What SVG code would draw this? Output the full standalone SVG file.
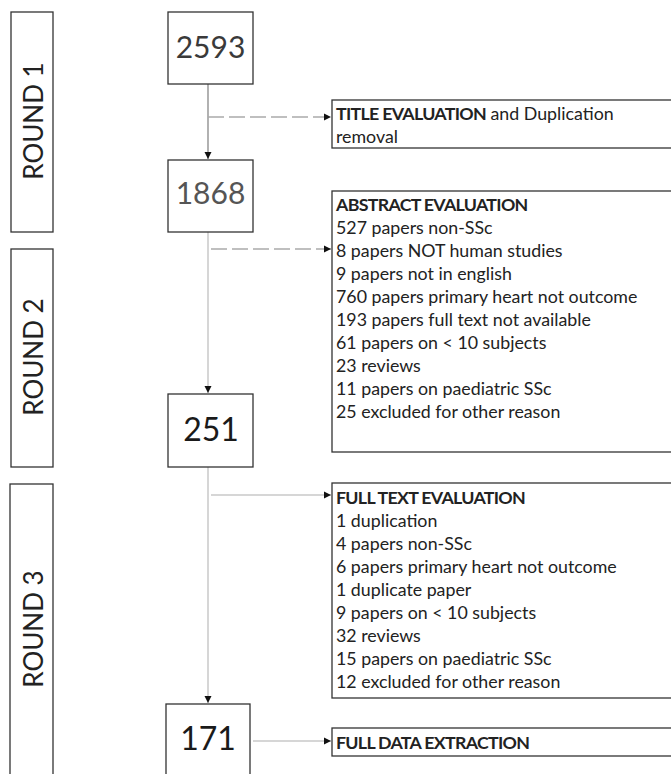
<svg xmlns="http://www.w3.org/2000/svg" width="671" height="774" viewBox="0 0 671 774">
<style>
.bx{fill:#fff;stroke:#333;stroke-width:1.3}
.rl{font-family:Lato,"Open Sans",sans-serif;font-size:26px;fill:#222;text-anchor:middle}
.num{font-family:Lato,"Open Sans",sans-serif;text-anchor:middle}
.t{font-family:Lato,"Open Sans",sans-serif;font-size:17.8px;fill:#222}
.b{font-weight:bold;letter-spacing:-0.7px}
.ln{fill:none;stroke:#c8c8c8;stroke-width:1.5}
.dl{fill:none;stroke:#aaa;stroke-width:1.5;stroke-dasharray:16 5}
</style>
<defs>
<marker id="ah" markerWidth="8" markerHeight="8" refX="7" refY="4" orient="auto" markerUnits="userSpaceOnUse">
<path d="M0,0.5 L7,4 L0,7.5 z" fill="#111"/>
</marker>
</defs>
<rect width="671" height="774" fill="#fff"/>

<g id="round1"><rect class="bx" x="11" y="12" width="42" height="220"/><text class="rl" x="33" y="131" transform="rotate(-90 33 121)">ROUND 1</text></g>
<g id="round2"><rect class="bx" x="11" y="249" width="42" height="218"/><text class="rl" x="33" y="367" transform="rotate(-90 33 357)">ROUND 2</text></g>
<g id="round3"><rect class="bx" x="10" y="484" width="43" height="300"/><text class="rl" x="33" y="639" transform="rotate(-90 33 629)">ROUND 3</text></g>

<g id="connectors">
<line x1="208" y1="84" x2="208" y2="159" stroke="#888" stroke-width="1.3" marker-end="url(#ah)"/>
<line class="dl" x1="208" y1="117" x2="331" y2="117" marker-end="url(#ah)"/>
<line class="ln" x1="208" y1="232" x2="208" y2="393" marker-end="url(#ah)"/>
<line class="dl" x1="211" y1="249" x2="331" y2="249" marker-end="url(#ah)"/>
<line class="ln" x1="208" y1="467" x2="208" y2="703" marker-end="url(#ah)"/>
<line class="ln" x1="211" y1="495" x2="331" y2="495" marker-end="url(#ah)"/>
<line class="ln" x1="253" y1="741" x2="331" y2="741" marker-end="url(#ah)"/>
</g>

<g id="n2593"><rect class="bx" x="168" y="12" width="85" height="72"/><text class="num" x="210.5" y="58" font-size="30" fill="#3a3a3a">2593</text></g>
<g id="n1868"><rect class="bx" x="168" y="160" width="85" height="72"/><text class="num" x="210.5" y="204" font-size="30" fill="#555">1868</text></g>
<g id="n251"><rect class="bx" x="168" y="394" width="85" height="73"/><text class="num" x="211" y="441" font-size="32" fill="#1a1a1a">251</text></g>
<g id="n171"><rect class="bx" x="166" y="704" width="84" height="80"/><text class="num" x="208" y="750" font-size="32" fill="#1a1a1a">171</text></g>

<g id="title"><rect class="bx" x="332" y="100" width="340" height="48"/>
<text class="t" x="336" y="119.5"><tspan class="b">TITLE EVALUATION</tspan> and Duplication</text>
<text class="t" x="336" y="142.5">removal</text></g>

<g id="abstract"><rect class="bx" x="332" y="191" width="340" height="261"/>
<text class="t b" x="336" y="211">ABSTRACT EVALUATION</text>
<text class="t" x="336" y="234">527 papers non-SSc</text>
<text class="t" x="336" y="257">8 papers NOT human studies</text>
<text class="t" x="336" y="280">9 papers not in english</text>
<text class="t" x="336" y="303">760 papers primary heart not outcome</text>
<text class="t" x="336" y="326">193 papers full text not available</text>
<text class="t" x="336" y="349">61 papers on &lt; 10 subjects</text>
<text class="t" x="336" y="372">23 reviews</text>
<text class="t" x="336" y="395">11 papers on paediatric SSc</text>
<text class="t" x="336" y="418">25 excluded for other reason</text></g>

<g id="fulltext"><rect class="bx" x="332" y="483" width="340" height="215"/>
<text class="t b" x="336" y="504">FULL TEXT EVALUATION</text>
<text class="t" x="336" y="527">1 duplication</text>
<text class="t" x="336" y="550">4 papers non-SSc</text>
<text class="t" x="336" y="573">6 papers primary heart not outcome</text>
<text class="t" x="336" y="596">1 duplicate paper</text>
<text class="t" x="336" y="619">9 papers on &lt; 10 subjects</text>
<text class="t" x="336" y="642">32 reviews</text>
<text class="t" x="336" y="665">15 papers on paediatric SSc</text>
<text class="t" x="336" y="688">12 excluded for other reason</text></g>

<g id="fulldata"><rect class="bx" x="332" y="728" width="340" height="28"/>
<text class="t b" x="336" y="749">FULL DATA EXTRACTION</text></g>
</svg>
